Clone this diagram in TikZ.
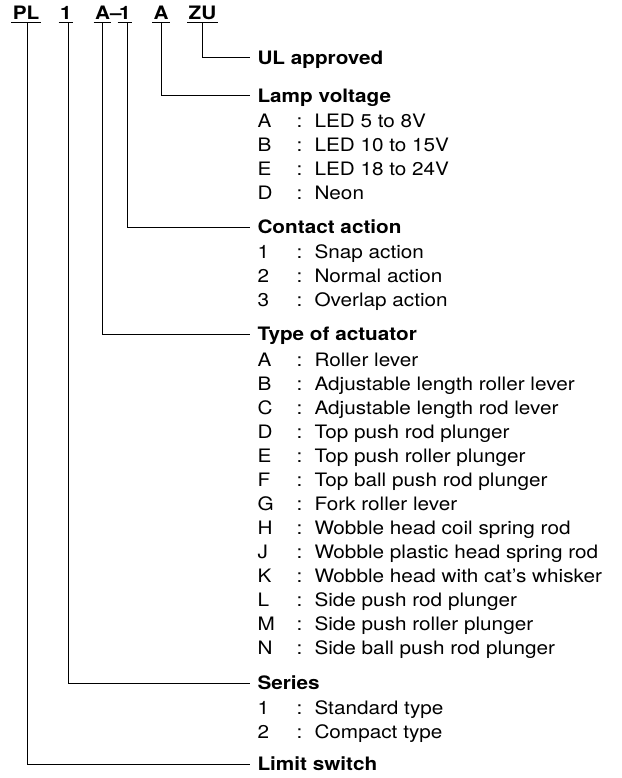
\documentclass[tikz,border=0pt]{standalone}
\usepackage{fontspec}
\setmainfont{TeX Gyre Heros}[FakeStretch=1.12]
\usepackage{tikz}

\begin{document}
\begin{tikzpicture}[
  x=1pt, y=-1pt, line width=1pt,
  every node/.style={inner sep=0pt,text height=13.3pt,text depth=0pt,
    font=\fontsize{18.5}{24}\selectfont},
  code/.style={anchor=south,inner xsep=1pt,inner ysep=2pt,
    font=\fontsize{18.5}{24}\selectfont\bfseries},
  head/.style={anchor=west,inner xsep=7pt,
    font=\fontsize{18.5}{24}\selectfont\bfseries},
  item/.style={anchor=west}
]
  \useasboundingbox (0,0) rectangle (621,778);

  \node[code] (pl)   at (26,22.5)  {PL};
  \node[code] (ser)  at (66,22.5)  {1};
  \node[code] (act)  at (102.5,22.5) {A};
  \node[code,inner xsep=0pt] (dash) at (116,22.5) {--};
  \node[code] (con)  at (125,22.5) {1};
  \node[code] (lamp) at (161,22.5) {A};
  \node[code] (ul)   at (202.5,22.5) {ZU};
  \foreach \n in {pl,ser,act,con,lamp,ul}
    \draw (\n.south west) -- (\n.south east);

  \node[head] (h-ul)   at (250,58)  {UL approved};
  \node[head] (h-lamp) at (250,96)  {Lamp voltage};
  \node[head] (h-con)  at (250,227) {Contact action};
  \node[head] (h-act)  at (250,334) {Type of actuator};
  \node[head] (h-ser)  at (250,683) {Series};
  \node[head] (h-pl)   at (250,764) {Limit switch};

  \foreach \l/\t [count=\i] in {A/LED 5 to 8V,B/LED 10 to 15V,E/LED 18 to 24V,D/Neon}{
    \node[item] (lamp-\i)  at (257,97+24*\i) {\l};
    \node[item] (lamp-c\i) at (296,97+24*\i) {:};
    \node[item] (lamp-t\i) at (314,97+24*\i) {\t};
  }
  \foreach \l/\t [count=\i] in {1/Snap action,2/Normal action,3/Overlap action}{
    \node[item] (con-\i)  at (257,228+24*\i) {\l};
    \node[item] (con-c\i) at (296,228+24*\i) {:};
    \node[item] (con-t\i) at (314,228+24*\i) {\t};
  }
  \foreach \l/\t [count=\i] in {A/Roller lever,B/Adjustable length roller lever,
      C/Adjustable length rod lever,D/Top push rod plunger,E/Top push roller plunger,
      F/Top ball push rod plunger,G/Fork roller lever,H/Wobble head coil spring rod,
      J/Wobble plastic head spring rod,K/Wobble head with cat’s whisker,
      L/Side push rod plunger,M/Side push roller plunger,N/Side ball push rod plunger}{
    \node[item] (act-\i)  at (257,336+24*\i) {\l};
    \node[item] (act-c\i) at (296,336+24*\i) {:};
    \node[item] (act-t\i) at (314,336+24*\i) {\t};
  }
  \foreach \l/\t [count=\i] in {1/Standard type,2/Compact type}{
    \node[item] (ser-\i)  at (257,684+24*\i) {\l};
    \node[item] (ser-c\i) at (296,684+24*\i) {:};
    \node[item] (ser-t\i) at (314,684+24*\i) {\t};
  }

  \draw (ul.south)   |- (h-ul.west);
  \draw (lamp.south) |- (h-lamp.west);
  \draw ([xshift=2pt]con.south) |- (h-con.west);
  \draw (act.south)  |- (h-act.west);
  \draw ([xshift=2pt]ser.south) |- (h-ser.west);
  \draw ([xshift=1pt]pl.south)  |- (h-pl.west);
\end{tikzpicture}
\end{document}
